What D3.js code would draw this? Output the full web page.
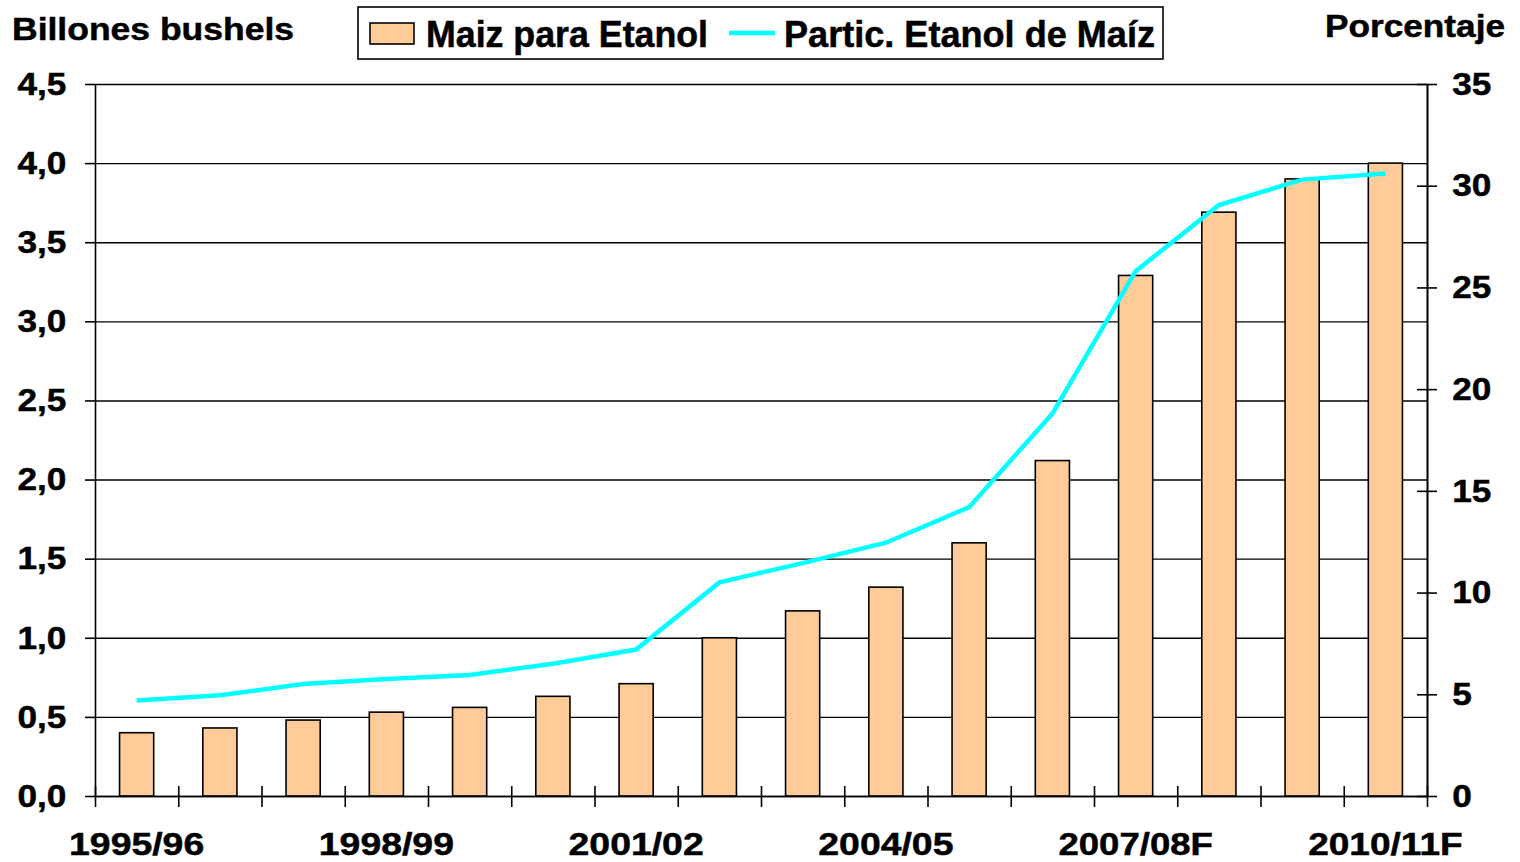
<!DOCTYPE html>
<html>
<head>
<meta charset="utf-8">
<script src="https://cdn.jsdelivr.net/npm/d3@7"></script>
<style>
  body { margin: 0; background: #fff; }
  text { font-family: "Liberation Sans", Arial, sans-serif; font-weight: bold; fill: #000; stroke: #000; stroke-width: 0.5px; }
</style>
</head>
<body>
<svg id="chart" width="1520" height="862"></svg>
<script>
var seasons = ["1995/96", "1996/97", "1997/98", "1998/99", "1999/00", "2000/01", "2001/02", "2002/03",
               "2003/04", "2004/05", "2005/06", "2006/07", "2007/08F", "2008/09F", "2009/10F", "2010/11F"];
var cornForEthanol = [0.40, 0.43, 0.48, 0.53, 0.56, 0.63, 0.71, 1.00, 1.17, 1.32, 1.60, 2.12, 3.29, 3.69, 3.90, 4.00];
var ethanolShare = [4.7, 4.95, 5.5, 5.75, 5.95, 6.5, 7.2, 10.5, 11.45, 12.45, 14.2, 18.8, 25.8, 29.05, 30.3, 30.6];
var leftTicks = [0, 0.5, 1, 1.5, 2, 2.5, 3, 3.5, 4, 4.5];
var rightTicks = [0, 5, 10, 15, 20, 25, 30, 35];
var xLabels = ["1995/96", "1998/99", "2001/02", "2004/05", "2007/08F", "2010/11F"];

var svg = d3.select("#chart"),
    plotLeft = 95, plotRight = 1427, plotTop = 84, plotBottom = 796;

var x = d3.scaleBand().domain(seasons).range([plotLeft, plotRight]).paddingInner(0.59).paddingOuter(0.295),
    xEdge = d3.scaleLinear().domain([0, seasons.length]).range([plotLeft, plotRight]),
    yL = d3.scaleLinear().domain([0, 4.5]).range([plotBottom, plotTop]),
    yR = d3.scaleLinear().domain([0, 35]).range([plotBottom, plotTop]);

// gridlines
svg.append("g")
    .attr("transform", "translate(" + plotLeft + ",0)")
    .call(d3.axisLeft(yL).tickValues(leftTicks).tickSize(-(plotRight - plotLeft)).tickFormat(""))
    .call(function(g) { g.select(".domain").remove(); })
    .selectAll("line").attr("stroke", "#000").attr("stroke-width", 1.4);

// bars
svg.append("g").selectAll("rect")
    .data(cornForEthanol)
    .enter().append("rect")
    .attr("x", function(d, i) { return x(seasons[i]); })
    .attr("y", function(d) { return yL(d); })
    .attr("width", x.bandwidth())
    .attr("height", function(d) { return plotBottom - yL(d); })
    .attr("fill", "#FFCC99")
    .attr("stroke", "#000")
    .attr("stroke-width", 1.6);

// line
var line = d3.line()
    .x(function(d, i) { return x(seasons[i]) + x.bandwidth() / 2; })
    .y(function(d) { return yR(d); });

svg.append("path")
    .datum(ethanolShare)
    .attr("d", line)
    .attr("fill", "none")
    .attr("stroke", "#00FFFF")
    .attr("stroke-width", 4.5);

function styleAxis(g) {
    g.selectAll("line").attr("stroke", "#000").attr("stroke-width", 1.6);
    g.select(".domain").attr("stroke", "#000").attr("stroke-width", 1.6);
}

// left axis
svg.append("g")
    .attr("transform", "translate(" + plotLeft + ",0)")
    .call(d3.axisLeft(yL).tickValues(leftTicks).tickSize(10).tickSizeOuter(0).tickPadding(16)
        .tickFormat(function(d) { return d3.format(".1f")(d).replace(".", ","); }))
    .call(styleAxis)
    .selectAll("text")
    .attr("font-size", 32)
    .attr("transform", "scale(1.1,1)");

// right axis (ticks cross the line)
svg.append("g")
    .attr("transform", "translate(" + plotRight + ",0)")
    .call(d3.axisLeft(yR).tickValues(rightTicks).tickSize(10).tickSizeOuter(0).tickFormat(""))
    .call(styleAxis);
svg.append("g")
    .attr("transform", "translate(" + plotRight + ",0)")
    .call(d3.axisRight(yR).tickValues(rightTicks).tickSize(10).tickSizeOuter(0).tickPadding(13))
    .call(styleAxis)
    .selectAll("text")
    .attr("font-size", 32)
    .attr("transform", "scale(1.1,1)");

// bottom axis ticks at category edges, crossing the line
svg.append("g")
    .attr("transform", "translate(0," + plotBottom + ")")
    .call(d3.axisBottom(xEdge).tickValues(d3.range(seasons.length + 1)).tickSize(11).tickSizeOuter(0).tickFormat(""))
    .call(styleAxis);
svg.append("g")
    .attr("transform", "translate(0," + plotBottom + ")")
    .call(d3.axisTop(xEdge).tickValues(d3.range(seasons.length + 1)).tickSize(10).tickSizeOuter(0).tickFormat(""))
    .call(styleAxis)
    .select(".domain").remove();

// bottom labels
var xLab = svg.append("g")
    .attr("transform", "translate(0," + plotBottom + ")")
    .call(d3.axisBottom(x).tickValues(xLabels).tickSize(0).tickPadding(36));
xLab.select(".domain").remove();
xLab.selectAll(".tick text")
    .attr("font-size", 32)
    .attr("textLength", function(d) { return d.length * 19.3; })
    .attr("lengthAdjust", "spacingAndGlyphs");

// axis titles
svg.append("text")
    .attr("x", 12).attr("y", 40)
    .attr("font-size", 32)
    .attr("textLength", 282).attr("lengthAdjust", "spacingAndGlyphs")
    .text("Billones bushels");
svg.append("text")
    .attr("x", 1325).attr("y", 37)
    .attr("font-size", 32)
    .attr("textLength", 180).attr("lengthAdjust", "spacingAndGlyphs")
    .text("Porcentaje");

// legend
var legend = svg.append("g");
legend.append("rect")
    .attr("x", 358).attr("y", 7).attr("width", 805).attr("height", 52)
    .attr("fill", "#fff").attr("stroke", "#000").attr("stroke-width", 1.6);
legend.append("rect")
    .attr("x", 370).attr("y", 23).attr("width", 44).attr("height", 21)
    .attr("fill", "#FFCC99").attr("stroke", "#000").attr("stroke-width", 1.6);
legend.append("text")
    .attr("x", 426).attr("y", 47)
    .attr("font-size", 36)
    .attr("textLength", 282).attr("lengthAdjust", "spacingAndGlyphs")
    .text("Maiz para Etanol");
legend.append("line")
    .attr("x1", 729).attr("x2", 775).attr("y1", 33).attr("y2", 33)
    .attr("stroke", "#00FFFF").attr("stroke-width", 4.5);
legend.append("text")
    .attr("x", 784).attr("y", 47)
    .attr("font-size", 36)
    .attr("textLength", 371).attr("lengthAdjust", "spacingAndGlyphs")
    .text("Partic. Etanol de Maíz");
</script>
</body>
</html>
